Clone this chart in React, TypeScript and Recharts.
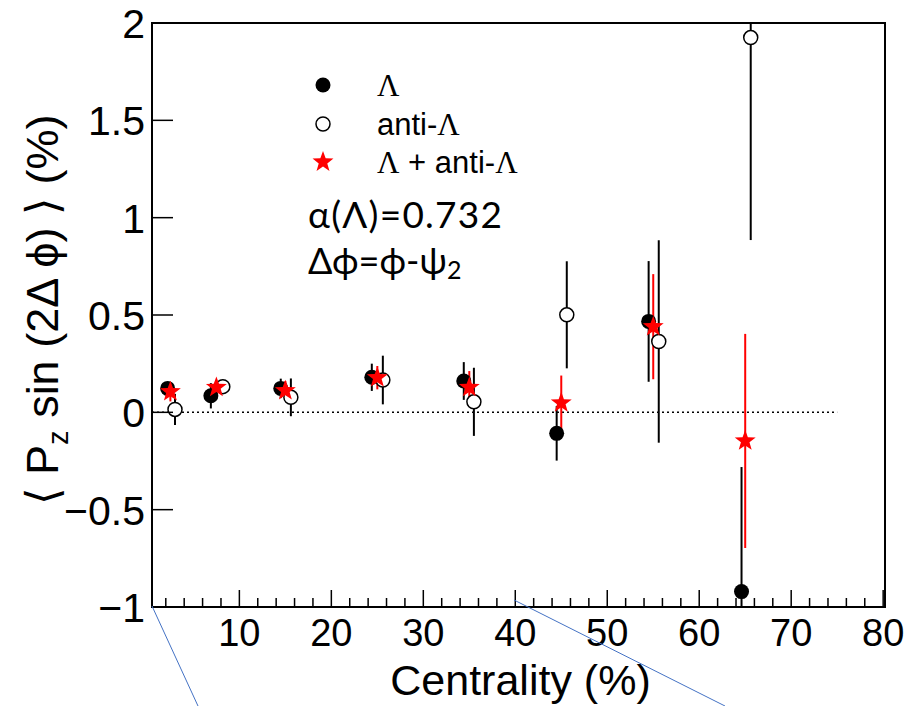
import React from 'react';
import {
  ScatterChart,
  Scatter,
  XAxis,
  YAxis,
  ErrorBar,
  ReferenceLine,
  ReferenceArea,
  Legend,
} from 'recharts';

// Centrality positions (%) per series
const lambdaX = [2.2, 6.9, 14.5, 24.4, 34.4, 44.5, 54.5, 64.6];
const lambdaY = [0.123, 0.085, 0.123, 0.18, 0.161, -0.108, 0.467, -0.921];
const lambdaErr = [0.03, 0.065, 0.05, 0.07, 0.097, 0.14, 0.31, 0.64];

const antiX = [3.0, 8.2, 15.6, 25.6, 35.5, 45.6, 55.6, 65.6];
const antiY = [0.015, 0.132, 0.077, 0.166, 0.054, 0.501, 0.364, 1.925];
const antiErr = [0.08, 0.03, 0.097, 0.125, 0.175, 0.275, 0.52, 1.04];

const sumX = [2.5, 7.5, 15, 25, 35, 45, 55, 65];
const sumY = [0.106, 0.128, 0.111, 0.178, 0.128, 0.049, 0.44, -0.147];
const sumErr = [0.05, 0.03, 0.05, 0.06, 0.084, 0.14, 0.27, 0.55];

const xTicks = [2, 4, 6, 8, 10, 12, 14, 16, 18, 20, 22, 24, 26, 28, 30, 32, 34, 36, 38, 40, 42, 44, 46, 48, 50, 52, 54, 56, 58, 60, 62, 64, 66, 68, 70, 72, 74, 76, 78, 80];
const yTicks = [-1, -0.5, 0, 0.5, 1, 1.5, 2];
const yTickLabels = ['\u22121', '\u22120.5', '0', '0.5', '1', '1.5', '2'];

const xDomain: [number, number] = [0.5, 80.2];
const yDomain: [number, number] = [-1, 2];
const zeroLineEnd = 75;

// error bars are clipped at the frame, like the plot they come from
const build = (xs: number[], ys: number[], es: number[]) =>
  xs.map((x, i) => ({
    x,
    y: ys[i],
    err: [Math.min(es[i], ys[i] - yDomain[0]), Math.min(es[i], yDomain[1] - ys[i])],
  }));

const lambdaData = build(lambdaX, lambdaY, lambdaErr);
const antiData = build(antiX, antiY, antiErr);
const sumData = build(sumX, sumY, sumErr);

const SANS = '"Liberation Sans", Arial, Helvetica, sans-serif';
const SERIF = '"Liberation Serif", "Times New Roman", serif';
const CAL = 'Lato, "Open Sans", sans-serif';

const starPoints = (cx: number, cy: number, ro: number, ri: number) => {
  const pts: string[] = [];
  for (let i = 0; i < 10; i++) {
    const r = i % 2 === 0 ? ro : ri;
    const a = -Math.PI / 2 + (i * Math.PI) / 5;
    pts.push(`${cx + r * Math.cos(a)},${cy + r * Math.sin(a)}`);
  }
  return pts.join(' ');
};

const FilledShape = (p: any) => <circle cx={p.cx} cy={p.cy} r={7.5} fill="#000" />;
const OpenShape = (p: any) => (
  <circle cx={p.cx} cy={p.cy} r={7} fill="#fff" stroke="#000" strokeWidth={1.5} />
);
const StarShape = (p: any) => <polygon points={starPoints(p.cx, p.cy, 11, 4.5)} fill="#ff0000" />;

const XTick = (props: any) => {
  const { x, y, payload } = props;
  const v = payload.value;
  const major = v % 10 === 0;
  return (
    <g>
      <line x1={x} x2={x} y1={y} y2={y - (major ? 17 : 9)} stroke="#000" strokeWidth={1.5} />
      {major && (
        <text x={x} y={y + 39} textAnchor="middle" fontSize={38} fontFamily={SANS} fill="#000">
          {v}
        </text>
      )}
    </g>
  );
};

const YTick = (props: any) => {
  const { x, y, payload, index } = props;
  const i = yTicks.indexOf(payload.value);
  return (
    <g>
      <line x1={x} x2={x + 21} y1={y} y2={y} stroke="#000" strokeWidth={1.5} />
      <text x={x - 7} y={y + 15} textAnchor="end" fontSize={41} fontFamily={SANS} fill="#000">
        {yTickLabels[i >= 0 ? i : index]}
      </text>
    </g>
  );
};

const XTitle = (props: any) => {
  const vb = props.viewBox || { x: 152, y: 607, width: 733 };
  return (
    <text
      x={vb.x + vb.width / 2 + 2}
      y={vb.y + 88}
      textAnchor="middle"
      fontSize={43}
      fontFamily={SANS}
      fill="#000"
    >
      Centrality (%)
    </text>
  );
};

const YTitle = (props: any) => {
  const vb = props.viewBox || { x: 92, y: 23, height: 584 };
  const cy = vb.y + vb.height / 2 - 5;
  return (
    <text
      transform={`translate(58,${cy}) rotate(-90)`}
      textAnchor="middle"
      fontSize={45}
      fontFamily={SANS}
      fill="#000"
    >
      {'\u27E8 P'}
      <tspan dy={10} fontSize={29}>z</tspan>
      <tspan dy={-10}>{' sin (2\u0394 \u03D5) \u27E9 (%)'}</tspan>
    </text>
  );
};

const LegendBox = () => (
  <svg width={300} height={230} style={{ display: 'block', overflow: 'visible' }}>
    <circle cx={43} cy={25} r={7.5} fill="#000" />
    <text x={97} y={25} dominantBaseline="central" fontSize={31} fontFamily={SERIF} fill="#000">
      {'\u039B'}
    </text>
    <circle cx={43} cy={64} r={7} fill="#fff" stroke="#000" strokeWidth={1.5} />
    <text x={97} y={64} dominantBaseline="central" fontSize={31} fontFamily={SANS} fill="#000">
      anti-<tspan fontFamily={SERIF}>{'\u039B'}</tspan>
    </text>
    <polygon points={starPoints(43, 102, 11, 4.5)} fill="#ff0000" />
    <text x={97} y={102} dominantBaseline="central" fontSize={31} fontFamily={SANS} fill="#000">
      <tspan fontFamily={SERIF}>{'\u039B'}</tspan>
      {' + anti-'}
      <tspan fontFamily={SERIF}>{'\u039B'}</tspan>
    </text>
    <text
      x={28}
      y={153}
      dominantBaseline="central"
      fontSize={37}
      fontFamily={CAL}
      fill="#000"
      textLength={194}
      lengthAdjust="spacing"
    >
      {'\u03B1(\u039B)=0.732'}
    </text>
    <text x={28} y={200} dominantBaseline="central" fontSize={36} fontFamily={CAL} fill="#000">
      {'\u0394\u03D5=\u03D5-\u03C8'}
      <tspan dy={9} fontSize={25}>2</tspan>
    </text>
  </svg>
);

export default function App() {
  return (
    <div style={{ position: 'absolute', left: 0, top: 0, width: 910, height: 706, background: '#fff' }}>
      <ScatterChart
        width={910}
        height={706}
        margin={{ top: 23, right: 25, bottom: 39, left: 92 }}
      >
        <XAxis
          type="number"
          dataKey="x"
          domain={xDomain}
          allowDataOverflow
          ticks={xTicks}
          interval={0}
          tick={<XTick />}
          tickLine={false}
          tickSize={0}
          tickMargin={0}
          height={60}
          axisLine={{ stroke: '#000', strokeWidth: 2 }}
          label={<XTitle />}
        />
        <YAxis
          type="number"
          dataKey="y"
          domain={yDomain}
          allowDataOverflow
          ticks={yTicks}
          interval={0}
          tick={<YTick />}
          tickLine={false}
          tickSize={0}
          tickMargin={0}
          width={60}
          axisLine={{ stroke: '#000', strokeWidth: 2 }}
          label={<YTitle />}
        />
        <ReferenceLine
          segment={[
            { x: xDomain[0], y: 0 },
            { x: zeroLineEnd, y: 0 },
          ]}
          stroke="#000"
          strokeWidth={1.5}
          strokeDasharray="2 3"
        />
        <ReferenceArea
          x1={xDomain[0]}
          x2={xDomain[1]}
          y1={yDomain[0]}
          y2={yDomain[1]}
          fill="none"
          stroke="#000"
          strokeWidth={2}
        />
        <Scatter name="lambda" data={lambdaData} shape={FilledShape} isAnimationActive={false}>
          <ErrorBar dataKey="err" direction="y" width={0} stroke="#000" strokeWidth={2} />
        </Scatter>
        <Scatter name="anti" data={antiData} shape={OpenShape} isAnimationActive={false}>
          <ErrorBar dataKey="err" direction="y" width={0} stroke="#000" strokeWidth={2} />
        </Scatter>
        <Scatter name="sum" data={sumData} shape={StarShape} isAnimationActive={false}>
          <ErrorBar dataKey="err" direction="y" width={0} stroke="#ff0000" strokeWidth={2} />
        </Scatter>
        <Legend
          layout="vertical"
          align="center"
          verticalAlign="middle"
          content={<LegendBox />}
          wrapperStyle={{ position: 'absolute', left: 280, top: 60, width: 300, height: 230 }}
        />
      </ScatterChart>
      <svg
        width={910}
        height={706}
        style={{ position: 'absolute', left: 0, top: 0, pointerEvents: 'none' }}
      >
        <line x1={152} y1={606} x2={198} y2={706} stroke="#4472c4" strokeWidth={1} />
        <line x1={514} y1={600} x2={725} y2={706} stroke="#4472c4" strokeWidth={1} />
      </svg>
    </div>
  );
}
